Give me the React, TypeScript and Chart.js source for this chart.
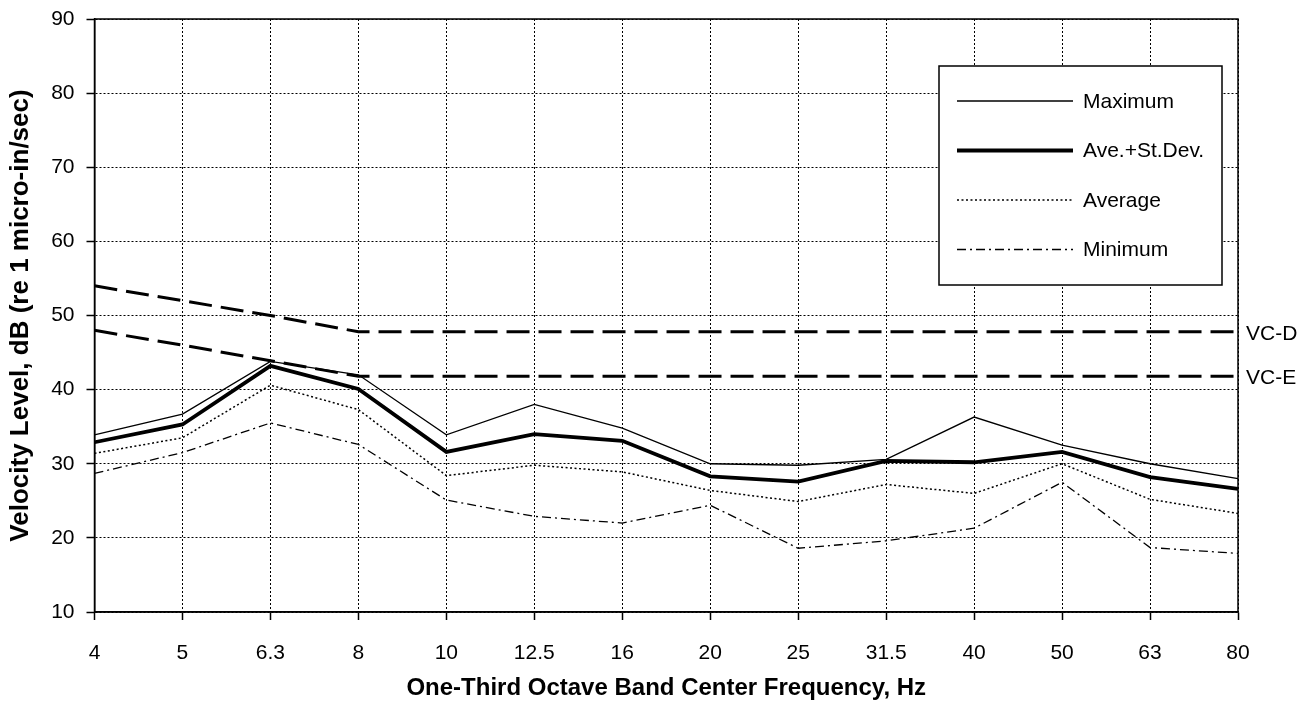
import React, { useEffect, useRef } from 'react';
import { Chart, registerables } from 'chart.js';

Chart.register(...registerables);

const FONT = "'Liberation Sans', Arial, Helvetica, sans-serif";

// One-third octave band centre frequencies (Hz)
const bandLabels = ['4', '5', '6.3', '8', '10', '12.5', '16', '20', '25', '31.5', '40', '50', '63', '80'];

// Measured velocity levels, dB re 1 micro-in/sec
const maximum = [33.9, 36.7, 43.8, 42.0, 33.9, 38.0, 34.8, 30.0, 29.8, 30.6, 36.3, 32.5, 30.0, 28.0];
const aveStDev = [32.9, 35.3, 43.2, 40.1, 31.6, 34.0, 33.1, 28.3, 27.6, 30.4, 30.2, 31.6, 28.2, 26.6];
const average = [31.4, 33.5, 40.6, 37.3, 28.4, 29.8, 28.9, 26.4, 24.9, 27.2, 26.0, 30.0, 25.2, 23.3];
const minimum = [28.7, 31.5, 35.5, 32.6, 25.1, 22.9, 22.0, 24.4, 18.6, 19.6, 21.3, 27.5, 18.7, 17.9];

// Vibration criterion curves
const vcD = [54.0, 52.0, 50.0, 47.8, 47.8, 47.8, 47.8, 47.8, 47.8, 47.8, 47.8, 47.8, 47.8, 47.8];
const vcE = [48.0, 46.0, 43.9, 41.8, 41.8, 41.8, 41.8, 41.8, 41.8, 41.8, 41.8, 41.8, 41.8, 41.8];

const yMin = 10;
const yMax = 90;
const yStep = 10;

const yTitle = 'Velocity Level, dB (re 1 micro-in/sec)';
const xTitle = 'One-Third Octave Band Center Frequency, Hz';

// Solid plot frame, in-plot legend box and the end labels of the criterion curves
const frameLegendPlugin = {
  id: 'frameLegend',
  afterDatasetsDraw(chart: any) {
    const { ctx, chartArea: a } = chart;
    const yScale = chart.scales.y;
    ctx.save();
    ctx.setLineDash([]);
    ctx.strokeStyle = '#000';
    ctx.lineWidth = 1.5;
    ctx.strokeRect(a.left, a.top, a.right - a.left, a.bottom - a.top);

    ctx.fillStyle = '#000';
    ctx.font = `21px ${FONT}`;
    ctx.textAlign = 'left';
    ctx.textBaseline = 'middle';
    chart.data.datasets.forEach((ds: any) => {
      if (ds.endLabel) {
        const v = ds.data[ds.data.length - 1];
        ctx.fillText(ds.endLabel, a.right + 8, yScale.getPixelForValue(v) + 2);
      }
    });

    // legend box
    const boxL = a.right - 299;
    const boxT = a.top + 47;
    const boxW = 283;
    const boxH = 219;
    ctx.fillStyle = '#fff';
    ctx.fillRect(boxL, boxT, boxW, boxH);
    ctx.strokeStyle = '#000';
    ctx.lineWidth = 1.5;
    ctx.strokeRect(boxL, boxT, boxW, boxH);

    const entries = chart.data.datasets.filter((ds: any) => !ds.endLabel);
    entries.forEach((ds: any, i: number) => {
      const rowY = boxT + 35 + i * 49.5;
      ctx.beginPath();
      ctx.setLineDash(ds.borderDash || []);
      ctx.lineWidth = ds.borderWidth;
      ctx.strokeStyle = '#000';
      ctx.moveTo(boxL + 18, rowY);
      ctx.lineTo(boxL + 134, rowY);
      ctx.stroke();
      ctx.setLineDash([]);
      ctx.fillStyle = '#000';
      ctx.font = `21px ${FONT}`;
      ctx.textAlign = 'left';
      ctx.textBaseline = 'middle';
      ctx.fillText(ds.label, boxL + 144, rowY + 1);
    });
    ctx.restore();
  },
};

export default function App() {
  const canvasRef = useRef<HTMLCanvasElement | null>(null);

  useEffect(() => {
    const canvas = canvasRef.current;
    if (!canvas) return;

    const line = (label: string, data: number[], width: number, dash: number[], extra: any = {}) => ({
      label,
      data,
      borderColor: '#000',
      backgroundColor: '#000',
      borderWidth: width,
      borderDash: dash,
      pointRadius: 0,
      tension: 0,
      fill: false,
      ...extra,
    });

    const chart = new Chart(canvas, {
      type: 'line',
      data: {
        labels: bandLabels,
        datasets: [
          line('VC-D', vcD, 3, [23, 9], { endLabel: 'VC-D' }),
          line('VC-E', vcE, 3, [23, 9], { endLabel: 'VC-E' }),
          line('Maximum', maximum, 1.3, []),
          line('Ave.+St.Dev.', aveStDev, 3.8, []),
          line('Average', average, 1.5, [2, 2.5]),
          line('Minimum', minimum, 1.3, [9, 4, 2, 4]),
        ] as any,
      },
      plugins: [frameLegendPlugin],
      options: {
        responsive: false,
        animation: false,
        devicePixelRatio: 1,
        layout: { padding: { left: 0, top: 19, right: 72, bottom: 0 } },
        plugins: {
          legend: { display: false },
          tooltip: { enabled: false },
        },
        scales: {
          x: {
            type: 'category',
            offset: false,
            afterFit: (s: any) => {
              s.height = 96;
            },
            grid: {
              display: true,
              color: '#000',
              lineWidth: 1,
              drawTicks: true,
              tickLength: 8,
              tickColor: '#000',
              tickWidth: 1.5,
              tickBorderDash: [],
              offset: false,
            },
            border: { display: true, color: '#000', width: 1.5, dash: [2, 2] },
            ticks: {
              color: '#000',
              font: { family: FONT, size: 21 },
              padding: 21,
              maxRotation: 0,
              autoSkip: false,
            },
            title: {
              display: true,
              text: xTitle,
              color: '#000',
              font: { family: FONT, size: 24, weight: 'bold' },
              padding: { top: 0, bottom: 5 },
            },
          },
          y: {
            type: 'linear',
            min: yMin,
            max: yMax,
            afterFit: (s: any) => {
              s.width = 94.5;
              s.paddingTop = 0;
              s.paddingBottom = 0;
            },
            grid: {
              display: true,
              color: '#000',
              lineWidth: 1,
              drawTicks: true,
              tickLength: 8,
              tickColor: '#000',
              tickWidth: 1.5,
              tickBorderDash: [],
            },
            border: { display: true, color: '#000', width: 1.5, dash: [2, 2] },
            ticks: {
              stepSize: yStep,
              color: '#000',
              font: { family: FONT, size: 21 },
              padding: 12,
            },
            title: {
              display: true,
              text: yTitle,
              color: '#000',
              font: { family: FONT, size: 26, weight: 'bold' },
              padding: { top: 5, bottom: 0 },
            },
          },
        },
      } as any,
    });

    return () => {
      chart.destroy();
    };
  }, []);

  return (
    <div style={{ position: 'fixed', left: 0, top: 0, width: 1310, height: 708, background: '#fff' }}>
      <canvas ref={canvasRef} width={1310} height={708} style={{ display: 'block' }} />
    </div>
  );
}
